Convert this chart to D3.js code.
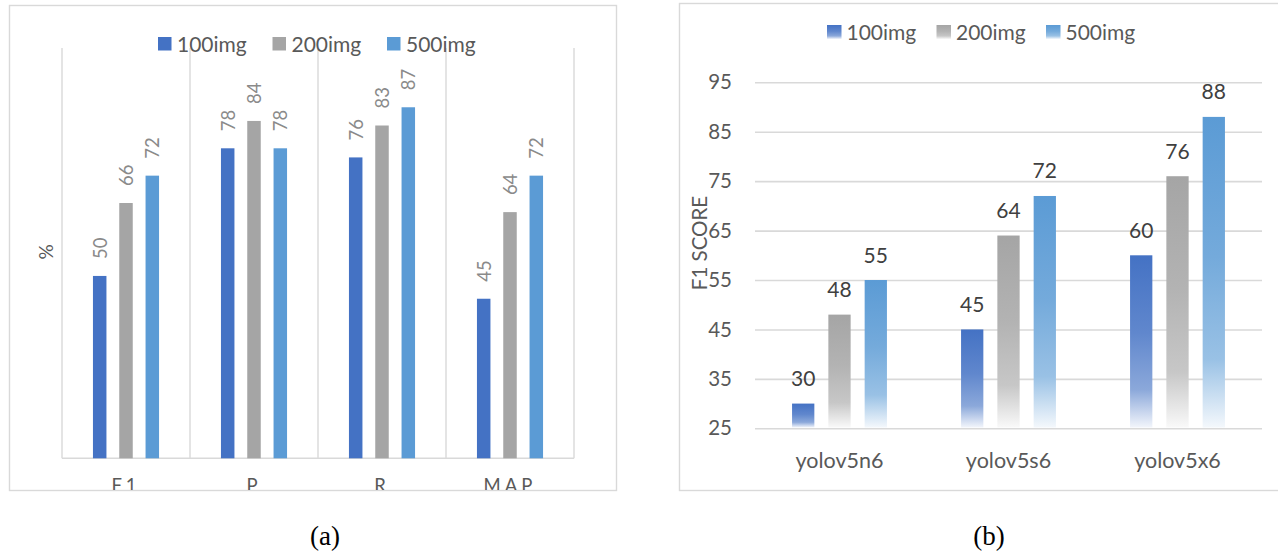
<!DOCTYPE html>
<html><head><meta charset="utf-8">
<script src="https://cdn.jsdelivr.net/npm/d3@7"></script>
<style>body{margin:0;background:#fff} svg{display:block}</style>
</head><body><svg id="c" width="1278" height="554"></svg>
<script>
// ---------- data ----------
const seriesNames = ["100img", "200img", "500img"];
const seriesColors = ["#4472C4", "#A5A5A5", "#5B9BD5"];

const metricCats = ["F1", "P", "R", "MAP"];
const metric100 = [50, 78, 76, 45];
const metric200 = [66, 84, 83, 64];
const metric500 = [72, 78, 87, 72];

const modelCats = ["yolov5n6", "yolov5s6", "yolov5x6"];
const f1_100 = [30, 45, 60];
const f1_200 = [48, 64, 76];
const f1_500 = [55, 72, 88];
const f1Ticks = [25, 35, 45, 55, 65, 75, 85, 95];

const captions = ["(a)", "(b)"];
const leftAxisTitle = "%";
const rightAxisTitle = "F1 SCORE";

// ---------- setup ----------
const svg = d3.select("#c");
const FONT = "Lato, 'Open Sans', sans-serif";
const GRID = "#d9d9d9";
const defs = svg.append("defs");

const mix = (c, t) => d3.interpolateRgb(c, "#ffffff")(t);
seriesColors.forEach((c, i) => {
  const g = defs.append("linearGradient").attr("id", "grad" + i)
    .attr("x1", 0).attr("y1", 0).attr("x2", 0).attr("y2", 1);
  g.append("stop").attr("offset", 0).attr("stop-color", c);
  g.append("stop").attr("offset", 0.45).attr("stop-color", mix(c, 0.15));
  g.append("stop").attr("offset", 0.78).attr("stop-color", mix(c, 0.38));
  g.append("stop").attr("offset", 1).attr("stop-color", mix(c, 0.93));
});

// =============== LEFT CHART ===============
const L = {x0: 9, y0: 5, x1: 616, y1: 490, pl: 62, pr: 574, pt: 48, pb: 458.3};
svg.append("rect").attr("x", L.x0 + 0.5).attr("y", L.y0 + 0.5)
  .attr("width", L.x1 - L.x0).attr("height", L.y1 - L.y0)
  .attr("fill", "#fff").attr("stroke", GRID).attr("stroke-width", 1.4);

defs.append("clipPath").attr("id", "clipL").append("rect")
  .attr("x", L.x0).attr("y", L.y0).attr("width", L.x1 - L.x0).attr("height", L.y1 - L.y0);

const gL = svg.append("g").attr("clip-path", "url(#clipL)");
const xL = d3.scaleBand().domain(metricCats).range([L.pl, L.pr]);
const xL1 = d3.scaleBand().domain(seriesNames).range([0, xL.bandwidth()])
  .paddingInner(0.487).paddingOuter(1.177);
const yL = d3.scaleLinear().domain([10, 100]).range([L.pb, L.pt]);

// vertical gridlines at category boundaries
const bounds = metricCats.map(c => xL(c)).concat([xL(metricCats[metricCats.length - 1]) + xL.bandwidth()]);
gL.selectAll("line.vg").data(bounds).join("line")
  .attr("x1", d => d).attr("x2", d => d)
  .attr("y1", yL(100)).attr("y2", L.pb)
  .attr("stroke", GRID).attr("stroke-width", 1.4);
gL.append("line").attr("x1", L.pl).attr("x2", L.pr).attr("y1", L.pb).attr("y2", L.pb)
  .attr("stroke", GRID).attr("stroke-width", 1.6);

const leftSeries = [metric100, metric200, metric500];
leftSeries.forEach((vals, si) => {
  const s = seriesNames[si];
  const grp = gL.append("g");
  grp.selectAll("rect").data(vals).join("rect")
    .attr("x", (d, i) => xL(metricCats[i]) + xL1(s))
    .attr("width", xL1.bandwidth())
    .attr("y", d => yL(d))
    .attr("height", d => L.pb - yL(d))
    .attr("fill", seriesColors[si]);
  grp.selectAll("text").data(vals).join("text")
    .attr("transform", (d, i) => `translate(${xL(metricCats[i]) + xL1(s) + xL1.bandwidth() / 2},${yL(d) - 17}) rotate(-90)`)
    .attr("text-anchor", "start").attr("dominant-baseline", "central")
    .attr("font-family", FONT).attr("font-size", 18.5).attr("fill", "#8a8a8a")
    .text(d => d);
});

// category labels (clipped by the frame)
const axL = gL.append("g").attr("transform", `translate(0,${L.pb})`)
  .call(d3.axisBottom(xL).tickSize(0).tickPadding(21));
axL.select(".domain").remove();
axL.selectAll("text").attr("font-family", FONT).attr("font-size", 18.5)
  .attr("fill", "#595959").attr("letter-spacing", "4px").attr("dy", "0.71em")
  .attr("y", 21);

// % title
svg.append("text").attr("transform", "translate(45,252) rotate(-90)")
  .attr("text-anchor", "middle").attr("dominant-baseline", "central")
  .attr("font-family", FONT).attr("font-size", 19).attr("fill", "#595959").text(leftAxisTitle);

// legend left
const legL = svg.append("g");
seriesNames.forEach((s, i) => {
  const gx = 158 + i * 114.5;
  legL.append("rect").attr("x", gx).attr("y", 37).attr("width", 13.5).attr("height", 13.5).attr("fill", seriesColors[i]);
  legL.append("text").attr("x", gx + 19).attr("y", 51.5).attr("font-family", FONT)
    .attr("font-size", 21).attr("fill", "#595959").text(s);
});

// =============== RIGHT CHART ===============
const R = {x0: 679, y0: 3, x1: 1280, y1: 490, pl: 755, pr: 1262, pt: 82.3, pb: 428.3};
svg.append("rect").attr("x", R.x0 + 0.5).attr("y", R.y0 + 0.5)
  .attr("width", R.x1 - R.x0).attr("height", R.y1 - R.y0)
  .attr("fill", "#fff").attr("stroke", GRID).attr("stroke-width", 1.4);

const xR = d3.scaleBand().domain(modelCats).range([R.pl, R.pr]);
const xR1 = d3.scaleBand().domain(seriesNames).range([0, xR.bandwidth()])
  .paddingInner(0.386).paddingOuter(1.021);
const yR = d3.scaleLinear().domain([25, 95]).range([R.pb, R.pt]);

const ayR = svg.append("g").attr("transform", `translate(${R.pl},0)`)
  .call(d3.axisLeft(yR).tickValues(f1Ticks).tickSize(-(R.pr - R.pl)).tickPadding(23));
ayR.select(".domain").remove();
ayR.selectAll(".tick line").attr("stroke", GRID).attr("stroke-width", 1.6);
ayR.selectAll(".tick text").attr("font-family", FONT).attr("font-size", 20.5)
  .attr("fill", "#595959");

const rightSeries = [f1_100, f1_200, f1_500];
rightSeries.forEach((vals, si) => {
  const s = seriesNames[si];
  const grp = svg.append("g");
  grp.selectAll("rect").data(vals).join("rect")
    .attr("x", (d, i) => xR(modelCats[i]) + xR1(s))
    .attr("width", xR1.bandwidth())
    .attr("y", d => yR(d))
    .attr("height", d => R.pb - yR(d) - 0.8)
    .attr("fill", `url(#grad${si})`);
  grp.selectAll("text").data(vals).join("text")
    .attr("x", (d, i) => xR(modelCats[i]) + xR1(s) + xR1.bandwidth() / 2)
    .attr("y", d => yR(d) - 17.5)
    .attr("text-anchor", "middle")
    .attr("font-family", FONT).attr("font-size", 21).attr("fill", "#404040")
    .text(d => d);
});

const axR = svg.append("g").attr("transform", `translate(0,${R.pb})`)
  .call(d3.axisBottom(xR).tickSize(0).tickPadding(24));
axR.select(".domain").remove();
axR.selectAll("text").attr("font-family", FONT).attr("font-size", 21.5).attr("fill", "#595959");

svg.append("text").attr("transform", "translate(699,243) rotate(-90)")
  .attr("text-anchor", "middle").attr("dominant-baseline", "central")
  .attr("font-family", FONT).attr("font-size", 20.5).attr("fill", "#595959").text(rightAxisTitle);

const legR = svg.append("g");
seriesNames.forEach((s, i) => {
  const gx = 827 + i * 109.5;
  legR.append("rect").attr("x", gx).attr("y", 25).attr("width", 14.5).attr("height", 14)
    .attr("fill", `url(#grad${i})`);
  legR.append("text").attr("x", gx + 19.5).attr("y", 39.5).attr("font-family", FONT)
    .attr("font-size", 21).attr("fill", "#595959").text(s);
});

// captions
[325, 989].forEach((cx, i) => {
  svg.append("text").attr("x", cx).attr("y", 545).attr("text-anchor", "middle")
    .attr("font-family", "'Liberation Serif', 'Times New Roman', serif")
    .attr("font-size", 27).attr("fill", "#000").text(captions[i]);
});
</script>
</body></html>
